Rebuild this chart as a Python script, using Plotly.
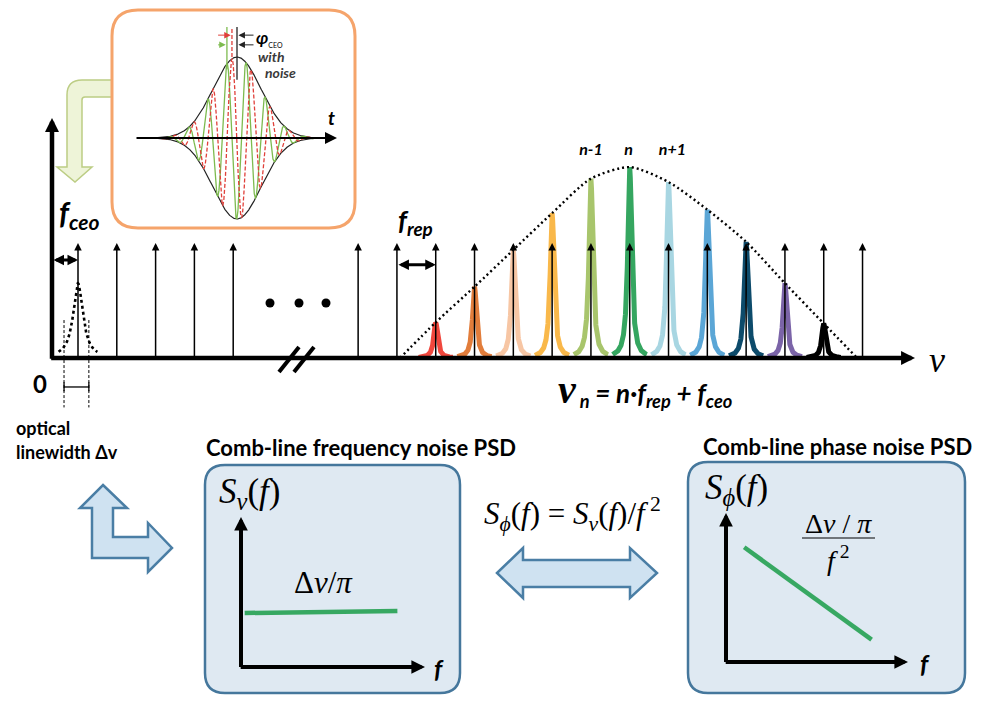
import numpy as np
import plotly.graph_objects as go

W, H = 998, 701

# ---------------- data ----------------
# comb-line frequencies in units of f_rep (offset by f_ceo = 0.67 f_rep)
comb_low = [0.67, 1.67, 2.67, 3.67, 4.67]
comb_high = [7.89, 8.89, 9.89, 10.89, 11.89, 12.89, 13.89, 14.89,
             15.89, 16.89, 17.89, 18.89, 19.89, 20.89]
comb_height = 1.0

# broadened comb lines (Lorentzian profiles) under the spectral envelope
line_centres = [9.89, 10.89, 11.89, 12.89, 13.89, 14.89, 15.89, 16.89, 17.89, 18.89, 19.89]
line_heights = [0.31, 0.62, 0.94, 1.26, 1.56, 1.66, 1.53, 1.29, 1.01, 0.65, 0.30]
line_colors = ["#f0473d", "#e27d3b", "#f7c6a4", "#f9b84a", "#a8c56c", "#35a660",
               "#a8d6e2", "#5ba6d6", "#0d4b6b", "#7b64a8", "#000000"]
line_gamma = 0.06
envelope_edges = [8.97, 20.75]

mode_labels = ["n-1", "n", "n+1"]
mode_label_freqs = [13.89, 14.86, 15.99]

# single-line linewidth example at the first comb line
example_centre = 0.67
example_height = 0.65
example_gamma = 0.15
linewidth_span = [0.31, 0.95]

# PSD sketches (normalised axes)
freq_psd_f = [0.02, 0.85]
freq_psd_s = [0.36, 0.373]
phase_psd_f = [0.10, 0.80]
phase_psd_s = [0.77, 0.15]

# optical pulse: envelope width, carrier period and carrier offsets (envelope units)
pulse_sigma = 1.0
carrier_period = 0.8
carrier_shift_ref = -0.21
carrier_shift_noisy = -0.42

# ---------------- helpers ----------------
SANS = "Lato"
SERIF = "Liberation Serif"
GREEN = "#37a862"


def P(x, y):
    return x / W, 1 - y / H


def mkpath(cmds):
    out = []
    for c in cmds:
        nums = c[1:]
        pts = []
        for i in range(0, len(nums), 2):
            X, Y = P(nums[i], nums[i + 1])
            pts.append(f"{X:.5f},{Y:.5f}")
        out.append(c[0] + " ".join(pts))
    return " ".join(out)


def rrect(x0, y0, x1, y1, r):
    return mkpath([("M", x0 + r, y0), ("L", x1 - r, y0), ("Q", x1, y0, x1, y0 + r),
                   ("L", x1, y1 - r), ("Q", x1, y1, x1 - r, y1), ("L", x0 + r, y1),
                   ("Q", x0, y1, x0, y1 - r), ("L", x0, y0 + r), ("Q", x0, y0, x0 + r, y0), ("Z",)])


def dom_x(a, b):
    return [a / W, b / W]


def dom_y(top, bottom):
    return [1 - bottom / H, 1 - top / H]


fig = go.Figure()

# ---------------- main spectrum (x / y) ----------------
for c, h, col in zip(line_centres, line_heights, line_colors):
    xs = c + np.linspace(-0.44, 0.44, 601)
    ys = h * line_gamma ** 2 / ((xs - c) ** 2 + line_gamma ** 2)
    fig.add_trace(go.Scatter(x=xs, y=ys, mode="lines", line=dict(color=col, width=5),
                             hoverinfo="skip", showlegend=False, xaxis="x", yaxis="y"))

env_x = [envelope_edges[0]] + line_centres + [envelope_edges[1]]
env_y = [0] + line_heights + [0]
fig.add_trace(go.Scatter(x=env_x, y=env_y, mode="lines",
                         line=dict(color="black", width=2.4, dash="2px,3px", shape="spline", smoothing=0.7),
                         hoverinfo="skip", showlegend=False, xaxis="x", yaxis="y"))

ex = example_centre + np.linspace(-0.5, 0.5, 401)
ey = example_height * example_gamma ** 2 / ((ex - example_centre) ** 2 + example_gamma ** 2)
fig.add_trace(go.Scatter(x=ex, y=ey, mode="lines", line=dict(color="black", width=2.6, dash="3px,3px"),
                         hoverinfo="skip", showlegend=False, xaxis="x", yaxis="y"))

for xv in linewidth_span:
    fig.add_trace(go.Scatter(x=[xv, xv], y=[0.33, -0.43], mode="lines",
                             line=dict(color="black", width=1, dash="3px,2px"),
                             hoverinfo="skip", showlegend=False, xaxis="x", yaxis="y"))
fig.add_trace(go.Scatter(x=[linewidth_span[0], linewidth_span[1]], y=[-0.252, -0.252], mode="lines",
                         line=dict(color="black", width=1.3),
                         hoverinfo="skip", showlegend=False, xaxis="x", yaxis="y"))
for xv in linewidth_span:
    fig.add_trace(go.Scatter(x=[xv, xv], y=[-0.21, -0.29], mode="lines",
                             line=dict(color="black", width=1.3),
                             hoverinfo="skip", showlegend=False, xaxis="x", yaxis="y"))

fig.add_trace(go.Scatter(x=mode_label_freqs, y=[1.80] * 3, mode="text",
                         text=[f"<b><i>{t}</i></b>" for t in mode_labels],
                         textfont=dict(family=SANS, size=16, color="black"),
                         hoverinfo="skip", showlegend=False, xaxis="x", yaxis="y"))

# ---------------- pulse inset (x4 / y4) ----------------
t = np.linspace(-3.4, 3.4, 2400)
env = np.exp(-t ** 2 / (2 * pulse_sigma ** 2))
for sgn in (1, -1):
    fig.add_trace(go.Scatter(x=t, y=sgn * env, mode="lines", line=dict(color="#222", width=1.2),
                             hoverinfo="skip", showlegend=False, xaxis="x4", yaxis="y4"))
fig.add_trace(go.Scatter(x=t, y=env * np.cos(2 * np.pi * (t - carrier_shift_noisy) / carrier_period),
                         mode="lines", line=dict(color="#7dbb4f", width=1.3),
                         hoverinfo="skip", showlegend=False, xaxis="x4", yaxis="y4"))
fig.add_trace(go.Scatter(x=t, y=env * np.cos(2 * np.pi * (t - carrier_shift_ref) / carrier_period),
                         mode="lines", line=dict(color="#e0403a", width=1.3, dash="4px,2px"),
                         hoverinfo="skip", showlegend=False, xaxis="x4", yaxis="y4"))
# phase markers above the pulse peak
fig.add_trace(go.Scatter(x=[0, 0], y=[0.72, 1.37], mode="lines", line=dict(color="#222", width=1.3),
                         hoverinfo="skip", showlegend=False, xaxis="x4", yaxis="y4"))
fig.add_trace(go.Scatter(x=[carrier_shift_ref] * 2, y=[1.0, 1.37], mode="lines",
                         line=dict(color="#e0403a", width=1.3, dash="4px,2px"),
                         hoverinfo="skip", showlegend=False, xaxis="x4", yaxis="y4"))
fig.add_trace(go.Scatter(x=[carrier_shift_noisy] * 2, y=[0.85, 1.37], mode="lines",
                         line=dict(color="#7dbb4f", width=1.3),
                         hoverinfo="skip", showlegend=False, xaxis="x4", yaxis="y4"))

# ---------------- PSD sketches (x2/y2, x3/y3) ----------------
fig.add_trace(go.Scatter(x=freq_psd_f, y=freq_psd_s, mode="lines", line=dict(color=GREEN, width=4.5),
                         hoverinfo="skip", showlegend=False, xaxis="x2", yaxis="y2"))
fig.add_trace(go.Scatter(x=phase_psd_f, y=phase_psd_s, mode="lines", line=dict(color=GREEN, width=4.5),
                         hoverinfo="skip", showlegend=False, xaxis="x3", yaxis="y3"))

# ---------------- axes ----------------
ax_common = dict(visible=False, showgrid=False, zeroline=False, fixedrange=True)
X0, XS = 52, 38.8
Y0, YS = 358, 115
layout_axes = dict(
    xaxis=dict(domain=[0, 1], range=[-X0 / XS, (W - X0) / XS], anchor="y", **ax_common),
    yaxis=dict(domain=[0, 1], range=[-(H - Y0) / YS, Y0 / YS], anchor="x", **ax_common),
    xaxis2=dict(domain=dom_x(241, 425), range=[0, 1], anchor="y2", **ax_common),
    yaxis2=dict(domain=dom_y(517, 667), range=[0, 1], anchor="x2", **ax_common),
    xaxis3=dict(domain=dom_x(726, 908), range=[0, 1], anchor="y3", **ax_common),
    yaxis3=dict(domain=dom_y(513, 662), range=[0, 1], anchor="x3", **ax_common),
    xaxis4=dict(domain=dom_x(112, 355), range=[(112 - 237) / 24, (355 - 237) / 24], anchor="y4", **ax_common),
    yaxis4=dict(domain=dom_y(10, 228), range=[(138 - 228) / 81, (138 - 10) / 81], anchor="x4", **ax_common),
)

ann = []


def arrow(x, y, ax_, ay_, xr, yr, width, size, color="black", both=False, head=2):
    d = dict(x=x, y=y, ax=ax_, ay=ay_, xref=xr, yref=yr, axref=xr, ayref=yr, text="",
             showarrow=True, arrowhead=head, arrowsize=size, arrowwidth=width, arrowcolor=color,
             standoff=0, startstandoff=0)
    if both:
        d.update(arrowside="end+start", startarrowhead=head, startarrowsize=size)
    ann.append(d)


# comb teeth
for f in comb_low + comb_high:
    arrow(f, comb_height, f, 0, "x", "y", 1.5, 1.0)
# main axes
arrow(0, (Y0 - 118) / YS, 0, -0.02, "x", "y", 4.5, 0.62)
arrow((915 - X0) / XS, 0, -0.06, 0, "x", "y", 4.5, 0.62)
# f_ceo and f_rep spacings
arrow(comb_low[0], 0.852, 0, 0.852, "x", "y", 3, 0.7, both=True)
arrow(comb_high[2], 0.81, comb_high[1], 0.81, "x", "y", 3, 0.7, both=True)
# PSD axes
for xr, yr in (("x2", "y2"), ("x3", "y3")):
    arrow(0, 1, 0, -0.01, xr, yr, 4, 0.68)
    arrow(1, 0, -0.01, 0, xr, yr, 4, 0.68)
# pulse time axis and phase arrows
arrow((337 - 237) / 24, 0, (135 - 237) / 24, 0, "x4", "y4", 2, 1.2)
arrow(carrier_shift_ref - 0.05, 1.27, -0.85, 1.27, "x4", "y4", 1, 1.3, color="#e0403a")
arrow(carrier_shift_noisy - 0.05, 1.15, -0.85, 1.15, "x4", "y4", 1, 1.3, color="#7dbb4f")
arrow(0.06, 1.27, 0.75, 1.27, "x4", "y4", 1, 1.3, color="#222")
arrow(0.06, 1.15, 0.75, 1.15, "x4", "y4", 1, 1.3, color="#222")


def label(x, y, text, size, family=SANS, xanchor="center", color="black"):
    X, Y = P(x, y)
    ann.append(dict(x=X, y=Y, xref="paper", yref="paper", text=text, showarrow=False,
                    xanchor=xanchor, yanchor="middle", font=dict(family=family, size=size, color=color)))


label(57, 214, "<b><i>f</i></b><sub><b><i>ceo</i></b></sub>", 30, xanchor="left")
label(396, 222, "<b><i>f</i></b><sub><b><i>rep</i></b></sub>", 27, xanchor="left")
label(40, 383, "<b>0</b>", 24)
label(14, 428, "<b>optical</b>", 18, xanchor="left")
label(14, 452, "<b>linewidth Δv</b>", 18, xanchor="left")
label(645, 389, "<b><i><span style='font-family:Liberation Serif;font-size:40px'>ν</span>"
                "<sub> n</sub> = n·f<sub>rep</sub> + f<sub>ceo</sub></i></b>", 26)
label(937, 360, "<i>ν</i>", 36, family=SERIF)
label(331, 117, "<b><i>t</i></b>", 19)
label(254, 38, "<b><i>φ</i></b><sub><span style='font-size:7px'>CEO</span></sub>", 17, xanchor="left")
label(256, 57, "<b><i>with</i></b>", 14, xanchor="left", color="#3a3a3a")
label(263, 73, "<b><i>noise</i></b>", 14, xanchor="left", color="#3a3a3a")
label(361, 447, "<b>Comb-line frequency noise PSD</b>", 22)
label(837, 446, "<b>Comb-line phase noise PSD</b>", 22)
label(217, 494, "<i>S</i><sub><i>ν</i></sub>(<i>f</i>)", 35, family=SERIF, xanchor="left")
label(703, 490, "<i>S</i><sub><i>ϕ</i></sub>(<i>f</i>)", 35, family=SERIF, xanchor="left")
label(323, 582, "Δ<i>ν</i>/<i>π</i>", 31, family=SERIF)
label(838, 523, "Δ<i>ν</i> / <i>π</i>", 28, family=SERIF)
label(838, 558, "<i>f</i><sup> 2</sup>", 28, family=SERIF)
label(572, 514, "<i>S</i><sub><i>ϕ</i></sub>(<i>f</i>) = <i>S</i><sub><i>ν</i></sub>(<i>f</i>)/<i>f</i><sup> 2</sup>",
      31, family=SERIF)
label(439, 668, "<b><i>f</i></b>", 25)
label(925, 663, "<b><i>f</i></b>", 25)

# ---------------- decorative shapes ----------------
shapes = []
LIGHT_BLUE, BLUE_EDGE = "#cfe2f1", "#4a7ea5"
shapes.append(dict(type="path", xref="paper", yref="paper", layer="below",
                   path=mkpath([("M", 114, 80), ("L", 82, 80), ("Q", 67, 80, 67, 95), ("L", 67, 167),
                                ("L", 57, 167), ("L", 75, 182), ("L", 92, 167), ("L", 82, 167),
                                ("L", 82, 100), ("Q", 82, 97, 85, 97), ("L", 114, 97), ("Z",)]),
                   fillcolor="#eef4d8", line=dict(color="#bccd84", width=1.5)))
shapes.append(dict(type="path", xref="paper", yref="paper", layer="below",
                   path=rrect(112, 10, 355, 228, 26), fillcolor="white",
                   line=dict(color="#f5a46b", width=3)))
shapes.append(dict(type="path", xref="paper", yref="paper", layer="below",
                   path=mkpath([("M", 103, 485), ("L", 127, 508), ("L", 113, 508), ("L", 113, 537),
                                ("L", 148, 537), ("L", 148, 523), ("L", 172, 548), ("L", 148, 572),
                                ("L", 148, 558), ("L", 92, 558), ("L", 92, 508), ("L", 80, 508), ("Z",)]),
                   fillcolor=LIGHT_BLUE, line=dict(color=BLUE_EDGE, width=2.5)))
shapes.append(dict(type="path", xref="paper", yref="paper", layer="below",
                   path=mkpath([("M", 497, 573), ("L", 523, 548), ("L", 523, 560), ("L", 630, 560),
                                ("L", 630, 548), ("L", 657, 573), ("L", 630, 598), ("L", 630, 587),
                                ("L", 523, 587), ("L", 523, 598), ("Z",)]),
                   fillcolor=LIGHT_BLUE, line=dict(color=BLUE_EDGE, width=2.5)))
for box in ((205, 465, 460, 693), (688, 462, 965, 693)):
    shapes.append(dict(type="path", xref="paper", yref="paper", layer="below",
                       path=rrect(*box, 20), fillcolor="#dfe9f2",
                       line=dict(color="#45779c", width=2.5)))
# axis break marks and ellipsis
for (xa, ya, xb, yb) in ((279, 372, 299, 347), (294, 372, 314, 347)):
    (X1, Y1), (X2, Y2) = P(xa, ya), P(xb, yb)
    shapes.append(dict(type="line", xref="paper", yref="paper", x0=X1, y0=Y1, x1=X2, y1=Y2,
                       line=dict(color="black", width=4)))
for xc in (270, 299, 326):
    (X1, Y1), (X2, Y2) = P(xc - 4.5, 303 - 4.5), P(xc + 4.5, 303 + 4.5)
    shapes.append(dict(type="circle", xref="paper", yref="paper", x0=X1, y0=Y2, x1=X2, y1=Y1,
                       fillcolor="black", line=dict(width=0)))
(X1, Y1), (X2, Y2) = P(802, 538), P(875, 538)
shapes.append(dict(type="line", xref="paper", yref="paper", x0=X1, y0=Y1, x1=X2, y1=Y2,
                   line=dict(color="black", width=1.2)))

fig.update_layout(
    width=W, height=H, autosize=False,
    margin=dict(l=0, r=0, t=0, b=0),
    paper_bgcolor="white", plot_bgcolor="rgba(0,0,0,0)",
    showlegend=False, annotations=ann, shapes=shapes,
    **layout_axes,
)

fig.write_html("out.html", config={"displayModeBar": False})
